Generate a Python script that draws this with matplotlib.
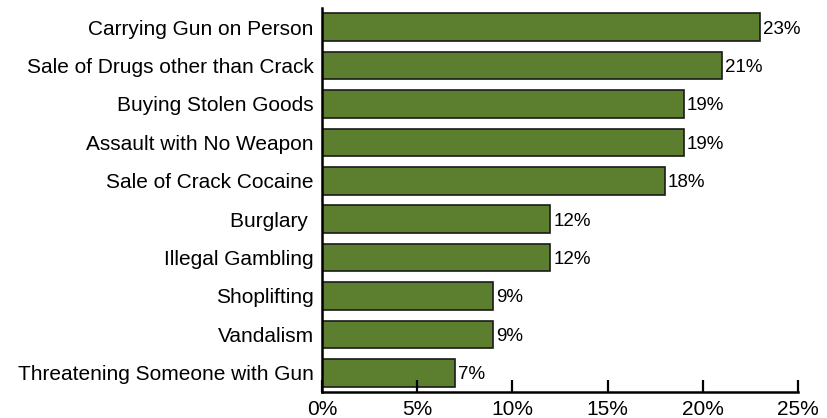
import matplotlib
matplotlib.use('Agg')
import matplotlib.pyplot as plt

# offence categories, top to bottom
categories = ['Carrying Gun on Person', 'Sale of Drugs other than Crack',
              'Buying Stolen Goods', 'Assault with No Weapon',
              'Sale of Crack Cocaine', 'Burglary ', 'Illegal Gambling',
              'Shoplifting', 'Vandalism', 'Threatening Someone with Gun']
percents = [23, 21, 19, 19, 18, 12, 12, 9, 9, 7]
xticks = [0, 5, 10, 15, 20, 25]

plt.rcParams['font.family'] = ['Liberation Sans', 'DejaVu Sans']

fig = plt.figure(figsize=(8.28, 4.18), dpi=100)
ax = fig.add_axes([0.3889, 0.0622, 0.5749, 0.9187])

pos = list(range(len(categories)))
ax.barh(pos, percents, height=0.72, color='#5b7f2f', edgecolor='#1a1a1a', linewidth=1.2)
for p, v in zip(pos, percents):
    ax.text(v + 0.15, p, f'{v}%', va='center_baseline', ha='left', fontsize=13.5)

ax.set_ylim(len(categories) - 0.5, -0.5)
ax.set_xlim(0, 25)
ax.set_yticks(pos)
ax.set_yticklabels(categories, fontsize=15)
ax.set_xticks(xticks)
ax.set_xticklabels([f'{t}%' for t in xticks], fontsize=15)

ax.spines['top'].set_visible(False)
ax.spines['right'].set_visible(False)
ax.spines['left'].set_linewidth(1.8)
ax.spines['bottom'].set_linewidth(1.8)
ax.tick_params(axis='y', length=0, pad=6)
ax.tick_params(axis='x', direction='in', length=9, width=1.6, pad=5.5)

fig.savefig('out.png', dpi=100)
